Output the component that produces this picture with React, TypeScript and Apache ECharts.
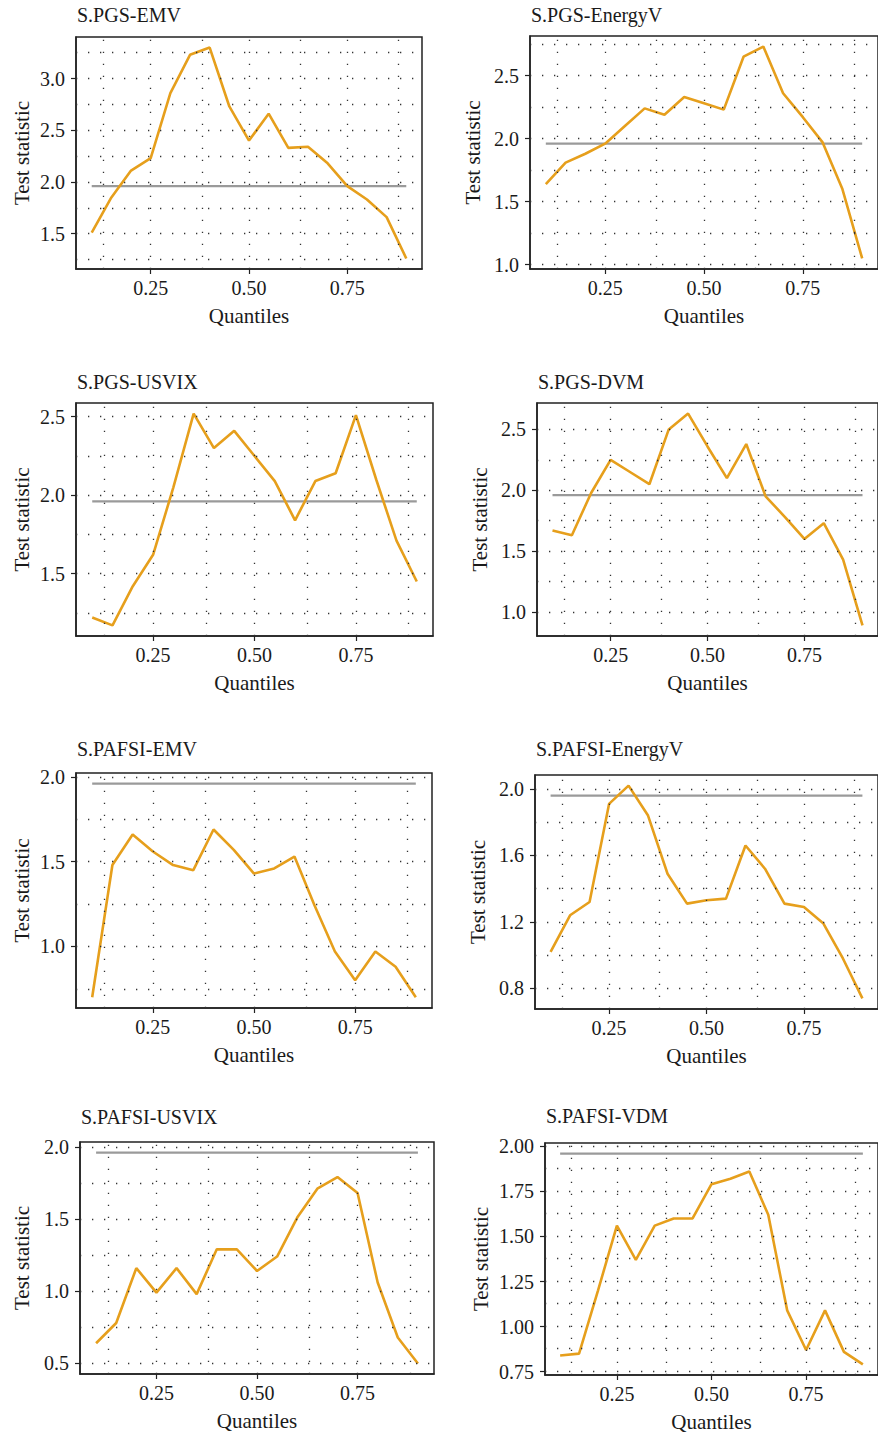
import React, { useEffect, useRef } from "react";
import * as echarts from "echarts";

const quantiles = [0.1, 0.15, 0.2, 0.25, 0.3, 0.35, 0.4, 0.45, 0.5, 0.55, 0.6, 0.65, 0.7, 0.75, 0.8, 0.85, 0.9];
const criticalValue = 1.96;
const xTickValues = [0.25, 0.5, 0.75];
const xGridValues = [0.125, 0.25, 0.375, 0.5, 0.625, 0.75, 0.875];

const panelTitles = [
  "S.PGS-EMV",
  "S.PGS-EnergyV",
  "S.PGS-USVIX",
  "S.PGS-DVM",
  "S.PAFSI-EMV",
  "S.PAFSI-EnergyV",
  "S.PAFSI-USVIX",
  "S.PAFSI-VDM",
];

const pgsEmv = [1.51, 1.85, 2.11, 2.23, 2.86, 3.23, 3.3, 2.73, 2.4, 2.66, 2.33, 2.34, 2.18, 1.96, 1.83, 1.66, 1.26];
const pgsEnergyV = [1.64, 1.81, 1.88, 1.96, 2.1, 2.24, 2.19, 2.33, 2.28, 2.23, 2.65, 2.73, 2.36, 2.17, 1.97, 1.6, 1.05];
const pgsUsvix = [1.22, 1.17, 1.42, 1.62, 2.05, 2.52, 2.3, 2.41, 2.25, 2.09, 1.84, 2.09, 2.14, 2.51, 2.1, 1.71, 1.45];
const pgsDvm = [1.67, 1.63, 1.98, 2.25, 2.15, 2.05, 2.5, 2.63, 2.36, 2.1, 2.38, 1.95, 1.78, 1.6, 1.73, 1.43, 0.89];
const pafsiEmv = [0.7, 1.48, 1.66, 1.56, 1.48, 1.45, 1.69, 1.57, 1.43, 1.46, 1.53, 1.24, 0.97, 0.8, 0.97, 0.88, 0.7];
const pafsiEnergyV = [1.02, 1.24, 1.32, 1.91, 2.02, 1.84, 1.49, 1.31, 1.33, 1.34, 1.66, 1.52, 1.31, 1.29, 1.19, 0.98, 0.74];
const pafsiUsvix = [0.64, 0.78, 1.16, 0.99, 1.16, 0.98, 1.29, 1.29, 1.14, 1.24, 1.51, 1.71, 1.79, 1.68, 1.06, 0.68, 0.5];
const pafsiVdm = [0.84, 0.85, 1.2, 1.56, 1.37, 1.56, 1.6, 1.6, 1.79, 1.82, 1.86, 1.62, 1.09, 0.87, 1.09, 0.86, 0.79];

const panelValues = [pgsEmv, pgsEnergyV, pgsUsvix, pgsDvm, pafsiEmv, pafsiEnergyV, pafsiUsvix, pafsiVdm];

const yTickLabels = [
  [1.5, 2.0, 2.5, 3.0],
  [1.0, 1.5, 2.0, 2.5],
  [1.5, 2.0, 2.5],
  [1.0, 1.5, 2.0, 2.5],
  [1.0, 1.5, 2.0],
  [0.8, 1.2, 1.6, 2.0],
  [0.5, 1.0, 1.5, 2.0],
  [0.75, 1.0, 1.25, 1.5, 1.75, 2.0],
];

const yGridValues = [
  [1.25, 1.5, 1.75, 2.0, 2.25, 2.5, 2.75, 3.0, 3.25],
  [1.0, 1.25, 1.5, 1.75, 2.0, 2.25, 2.5, 2.75],
  [1.25, 1.5, 1.75, 2.0, 2.25, 2.5],
  [1.0, 1.25, 1.5, 1.75, 2.0, 2.25, 2.5],
  [0.75, 1.0, 1.25, 1.5, 1.75, 2.0],
  [0.8, 1.0, 1.2, 1.4, 1.6, 1.8, 2.0],
  [0.5, 0.75, 1.0, 1.25, 1.5, 1.75, 2.0],
  [0.75, 0.875, 1.0, 1.125, 1.25, 1.375, 1.5, 1.625, 1.75, 1.875, 2.0],
];

const yDecimals = [1, 1, 1, 1, 1, 1, 1, 2];

// layout (pixels): grid box left, top, width, height, title position, y-name gap
const layouts = [
  { left: 76, top: 37, width: 346, height: 232, tx: 77, ty: 5, ng: 44 },
  { left: 530, top: 36, width: 357, height: 233, tx: 531, ty: 5, ng: 47 },
  { left: 76, top: 403, width: 357, height: 233, tx: 77, ty: 372, ng: 44 },
  { left: 537, top: 403, width: 350, height: 233, tx: 538, ty: 372, ng: 47 },
  { left: 76, top: 773, width: 356, height: 235, tx: 77, ty: 739, ng: 44 },
  { left: 535, top: 775, width: 352, height: 234, tx: 536, ty: 739, ng: 47 },
  { left: 80, top: 1142, width: 354, height: 232, tx: 81, ty: 1107, ng: 48 },
  { left: 545, top: 1143, width: 341, height: 232, tx: 546, ty: 1106, ng: 54 },
];

const FONT = "'Liberation Serif', 'DejaVu Serif', serif";
const TEXT = "#1a1a1a";
const ORANGE = "#E69F1C";
const GRAY = "#9a9a9a";

function buildOption() {
  const grid: any[] = [];
  const xAxis: any[] = [];
  const yAxis: any[] = [];
  const series: any[] = [];
  const title: any[] = [];

  panelValues.forEach((vals, i) => {
    const L = layouts[i];
    const lo0 = Math.min(...vals, criticalValue);
    const hi0 = Math.max(...vals, criticalValue);
    const pad = (hi0 - lo0) * 0.05;
    const xlo = quantiles[0];
    const xhi = quantiles[quantiles.length - 1];
    const xpad = (xhi - xlo) * 0.05;

    grid.push({
      left: L.left,
      top: L.top,
      width: L.width,
      height: L.height,
      show: true,
      borderColor: "#222",
      borderWidth: 1.5,
      backgroundColor: "transparent",
      containLabel: false,
    });
    title.push({
      text: panelTitles[i],
      left: L.tx,
      top: L.ty,
      padding: 0,
      textStyle: { fontFamily: FONT, fontSize: 20, fontWeight: "normal", color: TEXT },
    });
    xAxis.push({
      type: "value",
      gridIndex: i,
      min: xlo - xpad,
      max: xhi + xpad,
      axisLine: { show: true, lineStyle: { color: "#222", width: 1.5 } },
      axisTick: { show: true, customValues: xTickValues, length: 5, lineStyle: { color: "#222", width: 1.2 } },
      axisLabel: {
        show: true,
        customValues: xTickValues,
        formatter: (v: number) => v.toFixed(2),
        fontFamily: FONT,
        fontSize: 20,
        color: TEXT,
        margin: 9,
      },
      splitLine: { show: false },
      name: "Quantiles",
      nameLocation: "middle",
      nameGap: 36,
      nameTextStyle: { fontFamily: FONT, fontSize: 21, color: TEXT },
    });
    yAxis.push({
      type: "value",
      gridIndex: i,
      min: lo0 - pad,
      max: hi0 + pad,
      axisLine: { show: true, lineStyle: { color: "#222", width: 1.5 } },
      axisTick: { show: true, customValues: yTickLabels[i], length: 5, lineStyle: { color: "#222", width: 1.2 } },
      axisLabel: {
        show: true,
        customValues: yTickLabels[i],
        formatter: (v: number) => v.toFixed(yDecimals[i]),
        fontFamily: FONT,
        fontSize: 20,
        color: TEXT,
        margin: 11,
      },
      splitLine: { show: false },
      name: "Test statistic",
      nameLocation: "middle",
      nameRotate: 90,
      nameGap: L.ng,
      nameTextStyle: { fontFamily: FONT, fontSize: 21, color: TEXT },
    });

    const dotStyle = { color: "#333", width: 1.3, type: [1.3, 10.7] as any, opacity: 1 };
    series.push({
      type: "line",
      xAxisIndex: i,
      yAxisIndex: i,
      z: 2,
      data: [
        [xlo, criticalValue],
        [xhi, criticalValue],
      ],
      symbol: "none",
      lineStyle: { color: GRAY, width: 2.2 },
      silent: true,
      markLine: {
        silent: true,
        symbol: ["none", "none"],
        label: { show: false },
        lineStyle: dotStyle,
        emphasis: { disabled: true },
        data: [
          ...xGridValues.map((v) => ({ xAxis: v })),
          ...yGridValues[i].map((v) => ({ yAxis: v })),
        ],
      },
    });
    series.push({
      type: "line",
      xAxisIndex: i,
      yAxisIndex: i,
      z: 3,
      data: quantiles.map((q, k) => [q, vals[k]]),
      symbol: "none",
      lineStyle: { color: ORANGE, width: 2.6 },
      silent: true,
    });
  });

  return {
    animation: false,
    backgroundColor: "#ffffff",
    title,
    grid,
    xAxis,
    yAxis,
    series,
  };
}

export default function App() {
  const ref = useRef<HTMLDivElement>(null);
  useEffect(() => {
    document.body.style.margin = "0";
    document.body.style.overflow = "hidden";
    if (!ref.current) return;
    const chart = echarts.init(ref.current, undefined, { renderer: "svg" });
    chart.setOption(buildOption() as any);
    return () => chart.dispose();
  }, []);
  return <div ref={ref} style={{ width: 878, height: 1435, background: "#fff" }} />;
}
